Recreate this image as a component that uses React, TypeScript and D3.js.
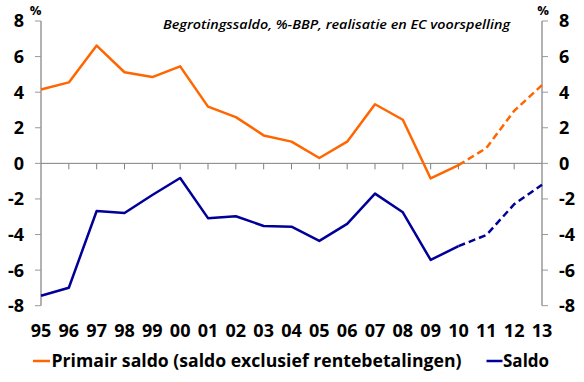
import React from "react";
import * as d3 from "d3";

const years = ["95","96","97","98","99","00","01","02","03","04","05","06","07","08","09","10","11","12","13"];
const primair = [4.15, 4.55, 6.62, 5.12, 4.85, 5.45, 3.19, 2.6, 1.57, 1.22, 0.3, 1.22, 3.32, 2.45, -0.85, -0.1, 0.86, 2.95, 4.4];
const saldo = [-7.44, -6.99, -2.68, -2.79, -1.78, -0.82, -3.08, -2.97, -3.52, -3.56, -4.36, -3.4, -1.7, -2.75, -5.43, -4.65, -4.03, -2.3, -1.2];
const forecastStart = 15; // index of "10": dashed afterwards
const yTicks = [-8, -6, -4, -2, 0, 2, 4, 6, 8];
const title = "Begrotingssaldo, %-BBP, realisatie en EC voorspelling";
const legendItems = [
  { label: "Primair saldo (saldo exclusief rentebetalingen)", color: "#FF6600" },
  { label: "Saldo", color: "#000099" },
];

const FONT = "'Open Sans', 'DejaVu Sans', sans-serif";

export default function App() {
  const W = 584, H = 382;
  const x0 = 41, x1 = 542;
  const x = d3.scaleLinear().domain([0, years.length - 1]).range([x0, x1]);
  const y = d3.scaleLinear().domain([-8, 8]).range([305.7, 21]);
  const l = d3.line<[number, number]>().x((d) => x(d[0])).y((d) => y(d[1]));
  const pts = (arr: number[]) => arr.map((v, i) => [i, v] as [number, number]);
  const solidPart = (arr: number[]) => l(pts(arr).slice(0, forecastStart + 1)) as string;
  const dashPart = (arr: number[]) => l(pts(arr).slice(forecastStart)) as string;
  const series = [
    { data: primair, color: legendItems[0].color },
    { data: saldo, color: legendItems[1].color },
  ];
  return (
    <svg width={W} height={H} style={{ position: "absolute", left: 0, top: 0, fontFamily: FONT }}>
      <rect width={W} height={H} fill="#fff" />
      {/* title */}
      <text x={163} y={28.5} fontSize={12.5} fontStyle="italic" fontWeight={600} fill="#000" textLength={347} lengthAdjust="spacingAndGlyphs">{title}</text>
      {/* % labels */}
      <text x={35.5} y={15} textAnchor="middle" fontSize={13} fontWeight={700}>%</text>
      <text x={543} y={15} textAnchor="middle" fontSize={13} fontWeight={700}>%</text>
      {/* axes */}
      <line x1={x0} x2={x0} y1={y(8)} y2={y(-8)} stroke="#999" strokeWidth={1.5} />
      <line x1={x1} x2={x1} y1={y(8)} y2={y(-8)} stroke="#999" strokeWidth={1.5} />
      {yTicks.map((t) => (
        <g key={t}>
          <line x1={x0 - 6} x2={x0} y1={y(t)} y2={y(t)} stroke="#999" strokeWidth={1} />
          <line x1={x1} x2={x1 + 6} y1={y(t)} y2={y(t)} stroke="#999" strokeWidth={1} />
          <text x={24} y={y(t)} dy="0.36em" textAnchor="end" fontSize={18} fontWeight={700}>{t}</text>
          <text x={559} y={y(t)} dy="0.36em" textAnchor="start" fontSize={18} fontWeight={700}>{t}</text>
        </g>
      ))}
      {/* zero line */}
      <line x1={x0} x2={x1} y1={y(0)} y2={y(0)} stroke="#808080" strokeWidth={1} />
      {years.map((yr, i) => (
        <g key={yr}>
          {i > 0 && i < years.length - 1 && (
            <line x1={x(i)} x2={x(i)} y1={y(0)} y2={y(0) + 6} stroke="#808080" strokeWidth={1} />
          )}
          <text x={x(i)} y={336.5} textAnchor="middle" fontSize={18} fontWeight={700}>{yr}</text>
        </g>
      ))}
      {/* series */}
      {series.map((s, k) => (
        <g key={k}>
          <path d={solidPart(s.data)} fill="none" stroke={s.color} strokeWidth={2.5} strokeLinejoin="round" />
          <path d={dashPart(s.data)} fill="none" stroke={s.color} strokeWidth={2.5} strokeDasharray="7,4" />
        </g>
      ))}
      {/* legend */}
      <line x1={33} x2={50} y1={361} y2={361} stroke={legendItems[0].color} strokeWidth={2.5} />
      <text x={51.5} y={367} fontSize={17.5} fontWeight={700} textLength={410} lengthAdjust="spacingAndGlyphs">{legendItems[0].label}</text>
      <line x1={486.5} x2={502.5} y1={361} y2={361} stroke={legendItems[1].color} strokeWidth={2.5} />
      <text x={503} y={367} fontSize={17} fontWeight={700}>{legendItems[1].label}</text>
    </svg>
  );
}
